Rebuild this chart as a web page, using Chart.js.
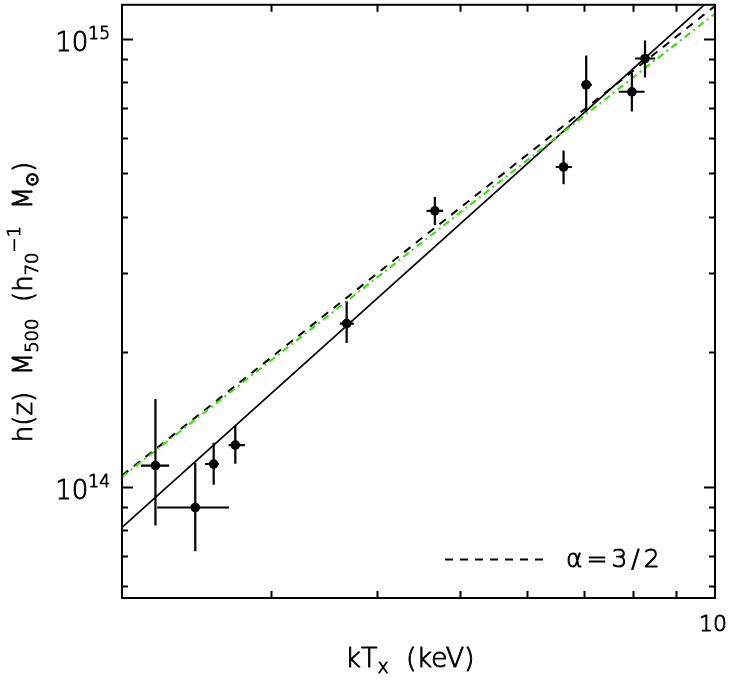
<!DOCTYPE html>
<html><head><meta charset="utf-8">
<script src="https://cdn.jsdelivr.net/npm/chart.js@4/dist/chart.umd.min.js"></script>
<style>html,body{margin:0;padding:0;background:#fff;}#wrap{width:732px;height:684px;position:relative;}canvas{display:block;}</style>
</head><body><div id="wrap"><canvas id="c" width="732" height="684" style="width:732px;height:684px;"></canvas></div>
<script>
// ---- data ----
const kT     = [2.19, 2.44, 2.565, 2.72, 3.68, 4.675, 6.63, 7.05, 7.98, 8.27];
const kTLo   = [2.106, 2.20, 2.505, 2.671, 3.614, 4.571, 6.49, 6.95, 7.70, 8.05];
const kTHi   = [2.273, 2.674, 2.602, 2.792, 3.754, 4.782, 6.78, 7.16, 8.26, 8.50];
const mass   = [1.114e14, 8.98e13, 1.123e14, 1.238e14, 2.311e14, 4.127e14, 5.17e14, 7.89e14, 7.61e14, 9.03e14];
const massLo = [8.19e13, 7.17e13, 1.010e14, 1.125e14, 2.093e14, 3.835e14, 4.73e14, 6.85e14, 6.88e14, 8.19e14];
const massHi = [1.569e14, 1.131e14, 1.252e14, 1.366e14, 2.590e14, 4.433e14, 5.63e14, 9.17e14, 8.40e14, 9.90e14];
const fitKT      = [2, 10];
const fitFree    = [8.11e13, 1.25e15];
const fitSlope32 = [1.058e14, 1.183e15];
const fitGreen   = [1.052e14, 1.138e15];
const xMinorTicks = [3, 4, 5, 6, 7, 8, 9];
const xLabelVals  = [10];
const xLabelTexts = ['10'];
const yMajorTicks = [1e14, 1e15];
const yMajorExp   = ['14', '15'];
const yMinorTicks = [6e13, 7e13, 8e13, 9e13, 2e14, 3e14, 4e14, 5e14, 6e14, 7e14, 8e14, 9e14];
const legendText  = 'α=3/2';

const FONT = "'DejaVu Sans', 'Liberation Sans', sans-serif";
const WEIGHT = '200 ';

function pts(xs, ys){ return xs.map((v,i)=>({x:v, y:ys[i]})); }

function txt(ctx, t, x0, y0){
  ctx.fillText(t, x0, y0);
  ctx.strokeText(t, x0, y0);
}
function drawPieces(ctx, pieces, startX, baseY){
  let cx = startX;
  for (const [t, size, dy] of pieces){
    ctx.font = WEIGHT + size + 'px ' + FONT;
    txt(ctx, t, cx, baseY + dy);
    cx += ctx.measureText(t).width;
  }
}
function piecesWidth(ctx, pieces){
  let w = 0;
  for (const [t, size] of pieces){ ctx.font = WEIGHT + size + 'px ' + FONT; w += ctx.measureText(t).width; }
  return w;
}

const decor = {
  id: 'decor',
  afterDatasetsDraw(chart){
    const {ctx, scales:{x, y}} = chart;
    ctx.save();
    ctx.strokeStyle = '#000'; ctx.lineWidth = 2.2;
    ctx.beginPath();
    for (let i = 0; i < kT.length; i++){
      const px = x.getPixelForValue(kT[i]), py = y.getPixelForValue(mass[i]);
      ctx.moveTo(x.getPixelForValue(kTLo[i]), py); ctx.lineTo(x.getPixelForValue(kTHi[i]), py);
      ctx.moveTo(px, y.getPixelForValue(massLo[i])); ctx.lineTo(px, y.getPixelForValue(massHi[i]));
    }
    ctx.stroke();
    ctx.restore();
  },
  afterDraw(chart){
    const {ctx, chartArea:a, scales:{x, y}} = chart;
    ctx.save();
    ctx.strokeStyle = '#000'; ctx.fillStyle = '#000';
    // frame
    ctx.lineWidth = 2;
    ctx.strokeRect(a.left, a.top, a.right - a.left, a.bottom - a.top);
    // ticks
    ctx.beginPath();
    for (const v of xMinorTicks){
      const px = Math.round(x.getPixelForValue(v)) + 0.5;
      ctx.moveTo(px, a.bottom); ctx.lineTo(px, a.bottom - 7);
      ctx.moveTo(px, a.top); ctx.lineTo(px, a.top + 7);
    }
    for (const v of yMinorTicks){
      const py = Math.round(y.getPixelForValue(v)) + 0.5;
      ctx.moveTo(a.left, py); ctx.lineTo(a.left + 6, py);
      ctx.moveTo(a.right, py); ctx.lineTo(a.right - 6, py);
    }
    for (const v of yMajorTicks){
      const py = Math.round(y.getPixelForValue(v)) + 0.5;
      ctx.moveTo(a.left, py); ctx.lineTo(a.left + 11, py);
      ctx.moveTo(a.right, py); ctx.lineTo(a.right - 11, py);
    }
    ctx.stroke();
    // text strokes slightly thickened
    ctx.lineWidth = 0.9;
    ctx.lineJoin = 'round';
    // x tick labels
    ctx.textBaseline = 'alphabetic';
    ctx.textAlign = 'center';
    ctx.font = WEIGHT + '22px ' + FONT;
    xLabelVals.forEach((v,i)=>{ txt(ctx, xLabelTexts[i], x.getPixelForValue(v) - 2, a.bottom + 33); });
    // y tick labels 10^n
    ctx.textAlign = 'left';
    yMajorTicks.forEach((v,i)=>{
      const py = y.getPixelForValue(v);
      const pieces = [['10', 26, 0], [yMajorExp[i], 17, -12]];
      const w = piecesWidth(ctx, pieces);
      drawPieces(ctx, pieces, a.left - 12 - w, py + 12);
    });
    // x title
    const xt = [['kT', 27, 0], ['x', 19, 6], ['  (keV)', 27, 0]];
    drawPieces(ctx, xt, 410 - piecesWidth(ctx, xt)/2, 667);
    // y title (rotated)
    const yt = [['h(z)  M', 26, 0], ['500', 18, 6], ['  (h', 26, 0], ['70', 18, 6], ['−1', 18, -12], ['  M', 26, 0], ['⊙', 18, 6], [')', 26, 0]];
    ctx.save();
    ctx.translate(32, 302);
    ctx.rotate(-Math.PI/2);
    drawPieces(ctx, yt, -piecesWidth(ctx, yt)/2, 0);
    ctx.restore();
    // legend
    ctx.lineWidth = 2;
    ctx.setLineDash([8, 7]);
    ctx.beginPath(); ctx.moveTo(445, 559.5); ctx.lineTo(548, 559.5); ctx.stroke();
    ctx.setLineDash([]);
    ctx.lineWidth = 0.9;
    ctx.font = WEIGHT + '25px ' + FONT;
    if ('letterSpacing' in ctx) ctx.letterSpacing = '4px';
    txt(ctx, legendText, 566, 567);
    if ('letterSpacing' in ctx) ctx.letterSpacing = '0px';
    ctx.restore();
  }
};

new Chart(document.getElementById('c'), {
  type: 'scatter',
  data: {
    datasets: [
      { label: 'clusters', data: pts(kT, mass), pointRadius: 4.8, pointHoverRadius: 4.8,
        backgroundColor: '#000', borderColor: '#000', borderWidth: 0, showLine: false },
      { label: 'fit (green)', data: pts(fitKT, fitGreen), showLine: true, pointRadius: 0,
        borderColor: '#2ee600', borderWidth: 2, borderDash: [7, 4, 2, 4], clip: 0 },
      { label: 'α=3/2', data: pts(fitKT, fitSlope32), showLine: true, pointRadius: 0,
        borderColor: '#000', borderWidth: 2, borderDash: [8, 7], clip: 0 },
      { label: 'free fit', data: pts(fitKT, fitFree), showLine: true, pointRadius: 0,
        borderColor: '#000', borderWidth: 1.7, clip: 0 }
    ]
  },
  options: {
    responsive: false, animation: false, devicePixelRatio: 1,
    layout: { padding: { left: 122, right: 17, top: 2, bottom: 86 } },
    plugins: { legend: { display: false }, tooltip: { enabled: false } },
    scales: {
      x: { type: 'logarithmic', min: 2, max: 10, display: false },
      y: { type: 'logarithmic', min: 5.64e13, max: 1.19e15, display: false }
    }
  },
  plugins: [decor]
});
</script>
</body></html>
